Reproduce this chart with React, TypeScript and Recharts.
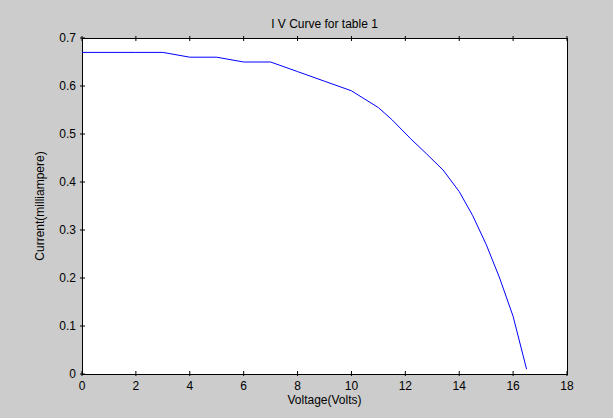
import { LineChart, Line, XAxis, YAxis } from "recharts";

// Voltage (V) and current (mA) readings for table 1
const voltage = [0, 1, 2, 3, 4, 5, 6, 7, 8, 9, 10, 11, 11.5, 12.2, 12.8, 13.4, 14, 14.5, 15, 15.5, 16, 16.5];
const current = [0.67, 0.67, 0.67, 0.67, 0.66, 0.66, 0.65, 0.65, 0.63, 0.61, 0.59, 0.555, 0.53, 0.49, 0.458, 0.425, 0.38, 0.33, 0.27, 0.2, 0.12, 0.01];

const xTicks = [0, 2, 4, 6, 8, 10, 12, 14, 16, 18];
const yTicks = [0, 0.1, 0.2, 0.3, 0.4, 0.5, 0.6, 0.7];

const font = { fontFamily: "'Liberation Sans', Arial, sans-serif", fontSize: 12, fill: "#000" };

// inward tick mark: draws from the axis into the plot, plus optional label
const tickIn = (dx: number, dy: number, label: boolean, tx: number, ty: number, anchor: string) =>
  (props: any) => {
    const { x, y, payload } = props;
    return (
      <g>
        <line x1={x} y1={y} x2={x + dx} y2={y + dy} stroke="#000" strokeWidth={1} />
        {label && (
          <text x={x + tx} y={y + ty} textAnchor={anchor} {...font}>
            {payload.value}
          </text>
        )}
      </g>
    );
  };

export default function App() {
  const chartData = voltage.map((v, i) => ({ v, i: current[i] }));

  return (
    <div style={{ position: "absolute", left: 0, top: 0, width: 613, height: 418, background: "#cccccc" }}>
      {/* white plot box with black frame behind the svg */}
      <div
        style={{
          position: "absolute",
          left: 82,
          top: 38,
          width: 486,
          height: 337,
          background: "#ffffff",
          border: "1px solid #000",
          boxSizing: "border-box",
        }}
      />
      <div style={{ position: "absolute", left: 0, top: 0 }}>
        <LineChart width={613} height={418} data={chartData} margin={{ top: 0, right: 0, bottom: 0, left: 0 }}>
          <XAxis
            xAxisId="bottom"
            dataKey="v"
            type="number"
            domain={[0, 18]}
            ticks={xTicks}
            height={44}
            axisLine={false}
            tickLine={false}
            tickSize={0}
            tick={tickIn(0, -5, true, 0, 14, "middle")}
            label={{ value: "Voltage(Volts)", position: "insideBottom", offset: 14, style: font }}
          />
          <XAxis
            xAxisId="top"
            orientation="top"
            dataKey="v"
            type="number"
            domain={[0, 18]}
            ticks={xTicks}
            height={38}
            axisLine={false}
            tickLine={false}
            tickSize={0}
            tick={tickIn(0, 5, false, 0, 0, "middle")}
            label={{ value: "I V Curve for table 1", position: "center", dy: 5, style: font }}
          />
          <YAxis
            yAxisId="left"
            type="number"
            domain={[0, 0.7]}
            ticks={yTicks}
            width={82}
            axisLine={false}
            tickLine={false}
            tickSize={0}
            tick={tickIn(5, 0, true, -4, 4, "end")}
            label={{ value: "Current(milliampere)", angle: -90, position: "center", dx: -1, style: font }}
          />
          <YAxis
            yAxisId="right"
            orientation="right"
            type="number"
            domain={[0, 0.7]}
            ticks={yTicks}
            width={46}
            axisLine={false}
            tickLine={false}
            tickSize={0}
            tick={tickIn(-5, 0, false, 0, 0, "start")}
          />
          <Line
            xAxisId="bottom"
            yAxisId="left"
            type="linear"
            dataKey="i"
            stroke="#0000ff"
            strokeWidth={1}
            dot={false}
            isAnimationActive={false}
          />
        </LineChart>
      </div>
    </div>
  );
}
